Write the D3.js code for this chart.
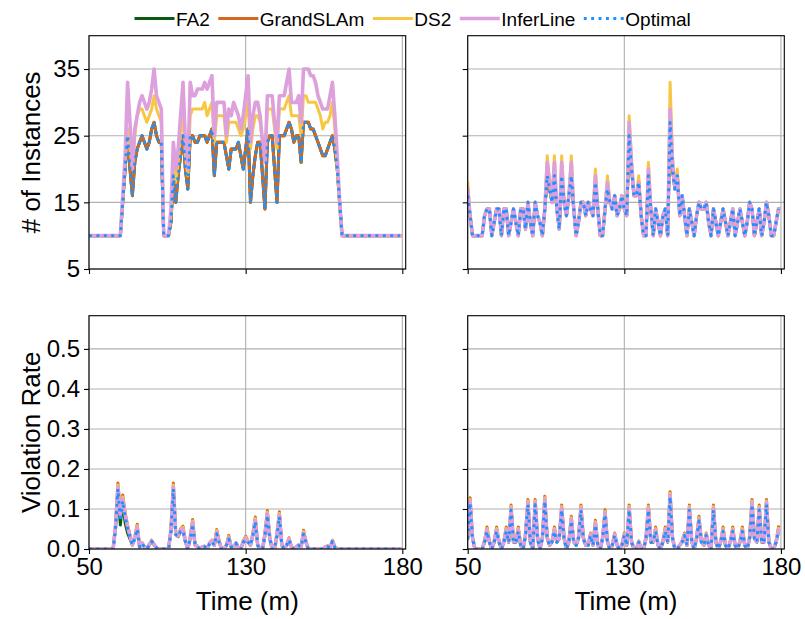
<!DOCTYPE html>
<html><head><meta charset="utf-8">
<script src="https://cdn.jsdelivr.net/npm/d3@7"></script>
<style>
body{margin:0;background:#fff}
svg{display:block}
text{font-family:"Liberation Sans", Arial, Helvetica, sans-serif;fill:#000}
</style>
</head><body>
<svg id="chart" width="805" height="619"></svg>
<script>
// ---------------- data ----------------
const seriesNames = ["FA2", "GrandSLAm", "DS2", "InferLine", "Optimal"];
const xTickValues = [0, 65, 130];
const xTickLabels = ["50", "130", "180"];
const instTickValues = [5, 15, 25, 35];
const violTickValues = [0, 0.1, 0.2, 0.3, 0.4, 0.5];

// # of instances, left workload (one value per sample)
const instOptimalL = [10,10,10,10,10,10,10,10,10,10,10,10,10,10,
15,20,25,20,16,21,23,24,25,24, 23,24,26,27,25,24,24,10,10,10,
12,19,15,19,22,25,20,17,25,25, 24,24,25,25,25,24,25,26,19,24,
24,24,24,22,20,23,23,23,24,22, 20,23,26,15,19,22,24,24,19,14,
24,25,25,20,15,25,25,25,26,27, 26,24,25,25,21,27,27,27,26,26,
25,24,23,22,22,23,24,25,23,20, 15,
10,10,10,10,10,10,10,10,10,10,10,10,10,10,10,10,10,10,10,10,10,10,10,10,10];
const instFA2L = instOptimalL;
const instGrandL = instOptimalL;
const instDS2L = [10,10,10,10,10,10,10,10,10,10,10,10,10,10,
15,21,26,23,20,25,28,29,29,28, 27,28,29,31,29,28,27,10,10,10,
13,21,18,21,25,29,22,19,28,29, 29,29,29,29,30,28,29,30,24,28,
28,28,28,24,27,27,27,27,26,25, 26,28,30,23,26,28,28,27,24,21,
29,29,29,26,23,29,29,29,30,31, 28,28,28,28,25,31,31,30,30,30,
30,29,28,26,27,27,28,30,26,20, 14,
10,10,10,10,10,10,10,10,10,10,10,10,10,10,10,10,10,10,10,10,10,10,10,10,10];
const instInferL = [10,10,10,10,10,10,10,10,10,10,10,10,10,10,
16,22,33,27,20,26,28,30,31,30, 29,30,32,35,31,30,29,10,10,10,
14,24,20,23,28,33,24,20,33,31, 31,32,32,32,33,32,33,34,25,30,
30,30,30,25,29,28,30,29,28,26, 28,31,34,24,28,30,30,28,24,21,
31,31,31,27,24,31,31,31,33,35, 30,30,30,31,27,35,35,35,34,34,
33,31,30,29,29,29,31,33,28,22, 15,
10,10,10,10,10,10,10,10,10,10,10,10,10,10,10,10,10,10,10,10,10,10,10,10,10];

// # of instances, right workload
const instOptimalR = [16,13,10,10,10,10,10,13,14,14, 10,12,14,14,10,14,14,10,12,14,
12,10,14,14,11,15,12,10,15,13, 12,10,14,19,17,15,19,14,11,19,
15,13,16,19,14,10,12,15,15,13, 15,14,13,18,14,10,10,14,17,15,
14,16,13,14,16,14,13,25,20,16, 16,18,13,10,10,19,14,10,14,12,
10,13,14,10,27,20,17,19,13,16, 13,10,14,12,10,13,15,14,14,15,
12,10,14,12,10,12,14,12,10,12, 14,10,12,14,12,10,12,15,14,10,
12,14,10,12,15,13,10,10,12,14];
const instFA2R = instOptimalR;
const instGrandR = instOptimalR;
const instInferR = [17,13,10,10,10,10,10,13,14,14, 10,12,14,14,10,14,14,10,12,14,
12,10,14,14,11,15,12,10,15,13, 12,10,14,21,18,15,21,14,11,21,
15,13,16,21,14,10,12,15,15,13, 15,14,13,19,14,10,10,14,18,15,
14,16,13,14,16,14,13,27,21,16, 16,18,13,10,10,20,14,10,14,12,
10,13,14,10,29,21,17,19,13,16, 13,10,14,12,10,13,15,14,14,15,
12,10,14,12,10,12,14,12,10,12, 14,10,12,14,12,10,12,15,14,10,
12,14,10,12,15,13,10,10,12,14];
const instDS2R = [18,13,10,10,10,10,10,13,14,14, 10,12,14,14,10,14,14,10,12,14,
12,10,14,14,11,15,12,10,15,13, 12,10,14,22,18,15,22,14,11,22,
15,13,16,22,14,10,12,15,15,13, 15,14,13,20,14,10,10,14,19,15,
14,16,13,14,16,14,13,28,21,16, 16,19,13,10,10,21,14,10,14,12,
10,13,14,10,33,22,17,20,13,16, 13,10,14,12,10,13,15,14,14,15,
12,10,14,12,10,12,14,12,10,12, 14,10,12,14,12,10,12,15,14,10,
12,14,10,12,15,13,10,10,12,14];

// violation rate, left workload
const violGrandL = [0,0,0,0,0,0,0,0,0,0,0,
0.06,0.165,0.09,0.135,0.09,0.06,0.035,0.01,0.03,0.062,
0.005,0.016,0.005,0,0.012,0.022,0.012,0.003,0,0,
0,0,0,0.05,0.165,0.04,0.035,0.05,0.057,0.02,
0,0.03,0.074,0.01,0.007,0,0.005,0.007,0,0.015,
0.022,0.01,0.049,0.02,0,0,0.01,0.034,0.005,0.005,
0.016,0.003,0,0.02,0.032,0.02,0.01,0.04,0.08,0.01,
0,0,0.04,0.096,0.03,0,0,0.04,0.093,0.01,
0,0.01,0.028,0.005,0,0.005,0.01,0.005,0.047,0.02,
0,0,0,0,0,0,0,0.005,0.008,0.003,
0.022,0.005,0,0,0,0,0,0,0,0,
0,0,0,0,0,0,0,0,0,0,0,0,0,0,0,0,0,0,0];
const violDS2L = [0,0,0,0,0,0,0,0,0,0,0,
0.058,0.16,0.088,0.13,0.088,0.058,0.034,0.01,0.03,0.058,
0.005,0.016,0.005,0,0.012,0.022,0.012,0.003,0,0,
0,0,0,0.048,0.16,0.04,0.034,0.048,0.054,0.02,
0,0.03,0.07,0.01,0.007,0,0.005,0.007,0,0.015,
0.022,0.01,0.046,0.02,0,0,0.01,0.031,0.005,0.005,
0.016,0.003,0,0.02,0.03,0.02,0.01,0.038,0.076,0.01,
0,0,0.038,0.092,0.03,0,0,0.038,0.089,0.01,
0,0.01,0.027,0.005,0,0.005,0.01,0.005,0.044,0.02,
0,0,0,0,0,0,0,0.005,0.008,0.003,
0.021,0.005,0,0,0,0,0,0,0,0,
0,0,0,0,0,0,0,0,0,0,0,0,0,0,0,0,0,0,0];
const violInferL = [0,0,0,0,0,0,0,0,0,0,0,
0.055,0.155,0.085,0.125,0.085,0.055,0.033,0.01,0.028,0.054,
0.005,0.015,0.005,0,0.011,0.02,0.011,0.003,0,0,
0,0,0,0.046,0.155,0.038,0.033,0.046,0.05,0.02,
0,0.028,0.066,0.01,0.007,0,0.005,0.007,0,0.014,
0.02,0.01,0.042,0.018,0,0,0.01,0.028,0.005,0.005,
0.015,0.003,0,0.018,0.027,0.018,0.01,0.036,0.072,0.01,
0,0,0.036,0.088,0.028,0,0,0.036,0.085,0.01,
0,0.01,0.025,0.005,0,0.005,0.01,0.005,0.04,0.018,
0,0,0,0,0,0,0,0.005,0.007,0.003,
0.02,0.005,0,0,0,0,0,0,0,0,
0,0,0,0,0,0,0,0,0,0,0,0,0,0,0,0,0,0,0];
const violOptimalL = [0,0,0,0,0,0,0,0,0,0,0,
0.052,0.15,0.07,0.12,0.08,0.052,0.03,0.01,0.026,0.05,
0.005,0.014,0.005,0,0.01,0.019,0.01,0.003,0,0,
0,0,0,0.044,0.15,0.036,0.031,0.044,0.046,0.018,
0,0.026,0.062,0.01,0.006,0,0.005,0.006,0,0.013,
0.019,0.009,0.038,0.017,0,0,0.009,0.025,0.005,0.005,
0.014,0.003,0,0.017,0.024,0.017,0.009,0.034,0.068,0.009,
0,0,0.034,0.084,0.026,0,0,0.034,0.081,0.009,
0,0.009,0.023,0.005,0,0.005,0.009,0.005,0.037,0.017,
0,0,0,0,0,0,0,0.004,0.006,0.003,
0.019,0.004,0,0,0,0,0,0,0,0,
0,0,0,0,0,0,0,0,0,0,0,0,0,0,0,0,0,0,0];
const violFA2L = [0,0,0,0,0,0,0,0,0,0,0,
0.05,0.15,0.06,0.12,0.065,0.04,0.025,0.01,0.026,0.05,
0.005,0.014,0.005,0,0.01,0.019,0.01,0.003,0,0,
0,0,0,0.044,0.15,0.036,0.031,0.044,0.046,0.018,
0,0.026,0.062,0.01,0.006,0,0.005,0.006,0,0.013,
0.019,0.009,0.038,0.017,0,0,0.009,0.025,0.005,0.005,
0.014,0.003,0,0.017,0.024,0.017,0.009,0.034,0.068,0.009,
0,0,0.034,0.084,0.026,0,0,0.034,0.081,0.009,
0,0.009,0.023,0.005,0,0.005,0.009,0.005,0.037,0.017,
0,0,0,0,0,0,0,0.004,0.006,0.003,
0.019,0.004,0,0,0,0,0,0,0,0,
0,0,0,0,0,0,0,0,0,0,0,0,0,0,0,0,0,0,0];

// violation rate, right workload
const violGrandR = [0.03,0.128,0.03,0,0,0,0,0.02,0.055,0.02,
0,0.02,0.055,0.02,0,0.02,0.055,0.02,0.11,0.02,
0.02,0.055,0.01,0,0.04,0.124,0.02,0,0.124,0.03,
0,0.03,0.132,0.03,0.01,0.02,0.055,0.02,0.03,0.11,
0.03,0,0.02,0.082,0.02,0.01,0.03,0.11,0.03,0.01,
0.01,0.04,0.01,0.072,0.01,0,0.03,0.098,0.02,0,
0.01,0.04,0.01,0,0.01,0.04,0.01,0.11,0.02,0,
0,0.02,0,0,0.03,0.11,0.02,0.02,0.055,0.01,
0,0.02,0.055,0.02,0.143,0.03,0,0,0.01,0.02,
0.04,0.01,0.11,0.02,0,0.03,0.082,0.02,0.01,0.04,
0.01,0,0.11,0.02,0,0.02,0.055,0.01,0,0.02,
0.055,0.01,0,0.02,0.055,0.01,0,0.03,0.124,0.03,
0.02,0.11,0.02,0.02,0.124,0.02,0,0,0.02,0.055];
const violDS2R = [0.03,0.124,0.03,0,0,0,0,0.02,0.051,0.02,
0,0.02,0.051,0.02,0,0.02,0.051,0.02,0.106,0.02,
0.02,0.051,0.01,0,0.039,0.12,0.02,0,0.12,0.03,
0,0.03,0.128,0.03,0.01,0.02,0.051,0.02,0.03,0.106,
0.03,0,0.02,0.078,0.02,0.01,0.03,0.106,0.03,0.01,
0.01,0.038,0.01,0.068,0.01,0,0.03,0.094,0.02,0,
0.01,0.038,0.01,0,0.01,0.038,0.01,0.106,0.02,0,
0,0.02,0,0,0.03,0.106,0.02,0.02,0.051,0.01,
0,0.02,0.051,0.02,0.139,0.03,0,0,0.01,0.02,
0.038,0.01,0.106,0.02,0,0.03,0.078,0.02,0.01,0.038,
0.01,0,0.106,0.02,0,0.02,0.051,0.01,0,0.02,
0.051,0.01,0,0.02,0.051,0.01,0,0.03,0.12,0.03,
0.02,0.106,0.02,0.02,0.12,0.02,0,0,0.02,0.051];
const violInferR = [0.028,0.12,0.028,0,0,0,0,0.018,0.047,0.018,
0,0.018,0.047,0.018,0,0.018,0.047,0.018,0.102,0.018,
0.018,0.047,0.01,0,0.036,0.116,0.018,0,0.116,0.028,
0,0.028,0.124,0.028,0.01,0.018,0.047,0.018,0.028,0.102,
0.028,0,0.018,0.074,0.018,0.01,0.028,0.102,0.028,0.01,
0.01,0.036,0.01,0.064,0.01,0,0.028,0.09,0.018,0,
0.01,0.036,0.01,0,0.01,0.036,0.01,0.102,0.018,0,
0,0.018,0,0,0.028,0.102,0.018,0.018,0.047,0.01,
0,0.018,0.047,0.018,0.135,0.028,0,0,0.01,0.018,
0.036,0.01,0.102,0.018,0,0.028,0.074,0.018,0.01,0.036,
0.01,0,0.102,0.018,0,0.018,0.047,0.01,0,0.018,
0.047,0.01,0,0.018,0.047,0.01,0,0.028,0.116,0.028,
0.018,0.102,0.018,0.018,0.116,0.018,0,0,0.018,0.047];
const violOptimalR = [0.026,0.115,0.026,0,0,0,0,0.017,0.044,0.017,
0,0.017,0.044,0.017,0,0.017,0.044,0.017,0.097,0.017,
0.017,0.044,0.009,0,0.034,0.111,0.017,0,0.111,0.026,
0,0.026,0.119,0.026,0.009,0.017,0.044,0.017,0.026,0.097,
0.026,0,0.017,0.07,0.017,0.009,0.026,0.097,0.026,0.009,
0.009,0.034,0.009,0.06,0.009,0,0.026,0.086,0.017,0,
0.009,0.034,0.009,0,0.009,0.034,0.009,0.097,0.017,0,
0,0.017,0,0,0.026,0.097,0.017,0.017,0.044,0.009,
0,0.017,0.044,0.017,0.13,0.026,0,0,0.009,0.017,
0.034,0.009,0.097,0.017,0,0.026,0.07,0.017,0.009,0.034,
0.009,0,0.097,0.017,0,0.017,0.044,0.009,0,0.017,
0.044,0.009,0,0.017,0.044,0.009,0,0.026,0.111,0.026,
0.017,0.097,0.017,0.017,0.111,0.017,0,0,0.017,0.044];
const violFA2R = violOptimalR;

// ---------------- styles / layout ----------------
const styles = {
  FA2:       {color: "#0b5a12", width: 3,   dash: null},
  GrandSLAm: {color: "#d2691e", width: 3,   dash: null},
  DS2:       {color: "#f7c744", width: 3,   dash: null},
  InferLine: {color: "#dda0dd", width: 3.6, dash: null},
  Optimal:   {color: "#1e90ff", width: 2.9, dash: "2.9,4.5"}
};
const font = '"Liberation Sans", Arial, sans-serif';
const colX = [{x0: 89, x1: 405.7}, {x0: 467.7, x1: 784.3}];
const rowY = [{y0: 35.7, y1: 269}, {y0: 315.7, y1: 549}];
const xDomain = [0, 131.4];

const panelDefs = [
  {col: 0, row: 0, kind: "inst", series: {FA2: instFA2L, GrandSLAm: instGrandL, DS2: instDS2L, InferLine: instInferL, Optimal: instOptimalL}},
  {col: 1, row: 0, kind: "inst", series: {FA2: instFA2R, GrandSLAm: instGrandR, DS2: instDS2R, InferLine: instInferR, Optimal: instOptimalR}},
  {col: 0, row: 1, kind: "viol", series: {FA2: violFA2L, GrandSLAm: violGrandL, DS2: violDS2L, InferLine: violInferL, Optimal: violOptimalL}},
  {col: 1, row: 1, kind: "viol", series: {FA2: violFA2R, GrandSLAm: violGrandR, DS2: violDS2R, InferLine: violInferR, Optimal: violOptimalR}}
];

const svg = d3.select("#chart");
svg.append("rect").attr("width", 805).attr("height", 619).attr("fill", "#fff");
const defs = svg.append("defs");

panelDefs.forEach((p, pi) => {
  const {x0, x1} = colX[p.col];
  const {y0, y1} = rowY[p.row];
  const x = d3.scaleLinear().domain(xDomain).range([x0, x1]);
  const y = p.kind === "inst"
    ? d3.scaleLinear().domain([5, 40]).range([y1, y0])
    : d3.scaleLinear().domain([0, 0.583]).range([y1, y0]);
  const yTicks = p.kind === "inst" ? instTickValues : violTickValues;
  const g = svg.append("g");

  // grid
  const grid = g.append("g").attr("stroke", "#b0b0b0").attr("stroke-width", 1.1);
  xTickValues.forEach(v => grid.append("line").attr("x1", x(v)).attr("x2", x(v)).attr("y1", y0).attr("y2", y1));
  yTicks.forEach(v => grid.append("line").attr("x1", x0).attr("x2", x1).attr("y1", y(v)).attr("y2", y(v)));

  // lines
  defs.append("clipPath").attr("id", "clip" + pi)
    .append("rect").attr("x", x0).attr("y", y0).attr("width", x1 - x0).attr("height", y1 - y0);
  const lg = g.append("g").attr("clip-path", `url(#clip${pi})`);
  const line = d3.line().x((d, i) => x(i)).y(d => y(d));
  seriesNames.forEach(name => {
    const st = styles[name];
    lg.append("path")
      .attr("d", line(p.series[name]))
      .attr("fill", "none")
      .attr("stroke", st.color)
      .attr("stroke-width", st.width)
      .attr("stroke-linejoin", "round")
      .attr("stroke-linecap", st.dash ? "butt" : "square")
      .attr("stroke-dasharray", st.dash);
  });

  // frame
  g.append("rect").attr("x", x0).attr("y", y0).attr("width", x1 - x0).attr("height", y1 - y0)
    .attr("fill", "none").attr("stroke", "#000").attr("stroke-width", 1.1);

  // axes
  const xAxis = d3.axisBottom(x).tickValues(xTickValues).tickSize(5).tickPadding(4)
    .tickFormat((d, i) => p.row === 1 ? xTickLabels[i] : "");
  const xa = g.append("g").attr("transform", `translate(0,${y1})`).call(xAxis);
  const yAxis = d3.axisLeft(y).tickValues(yTicks).tickSize(5).tickPadding(4)
    .tickFormat(d => p.col === 0 ? (p.kind === "inst" ? String(d) : d3.format(".1f")(d)) : "");
  const ya = g.append("g").attr("transform", `translate(${x0},0)`).call(yAxis);
  [xa, ya].forEach(a => {
    a.select(".domain").remove();
    a.selectAll(".tick line").attr("stroke", "#000").attr("stroke-width", 1.1);
    a.selectAll(".tick text").attr("font-family", font).attr("font-size", 24).attr("fill", "#000");
  });

  if (p.row === 1) {
    g.append("text").attr("x", (x0 + x1) / 2).attr("y", 610).attr("text-anchor", "middle")
      .attr("font-size", 26).text("Time (m)");
  }
  if (p.col === 0) {
    g.append("text").attr("transform", `translate(40,${(y0 + y1) / 2}) rotate(-90)`)
      .attr("text-anchor", "middle").attr("font-size", 26)
      .text(p.kind === "inst" ? "# of Instances" : "Violation Rate");
  }
});

// legend
const leg = svg.append("g");
let lx = 134.5;
seriesNames.forEach(name => {
  const st = styles[name];
  leg.append("line").attr("x1", lx).attr("x2", lx + 40).attr("y1", 18.5).attr("y2", 18.5)
    .attr("stroke", st.color).attr("stroke-width", st.width)
    .attr("stroke-dasharray", st.dash);
  const t = leg.append("text").attr("x", lx + 41.5).attr("y", 25.5).attr("font-size", 19).text(name);
  lx += 41.5 + t.node().getComputedTextLength() + 8.5;
});
</script>
</body></html>
